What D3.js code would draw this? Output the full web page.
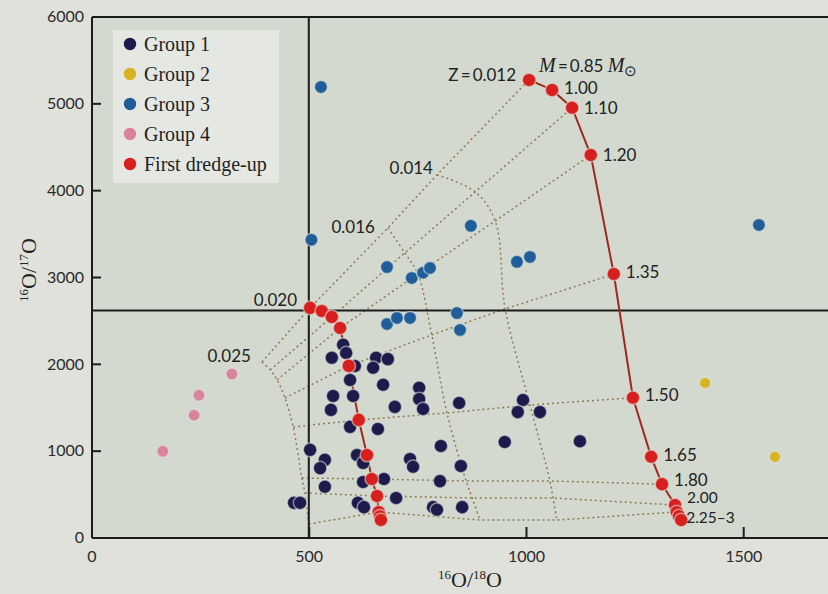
<!DOCTYPE html>
<html>
<head>
	<meta charset="UTF-8">
	<title>Oxygen isotope ratios</title>
	<script src="https://cdnjs.cloudflare.com/ajax/libs/d3/7.8.5/d3.min.js"></script>
	<style>
		body { margin: 0; background: #dfe1da; }
		svg { display: block; }
		.tick-label { font-family: Lato, "Open Sans", sans-serif; font-size: 16px; fill: #2a2a2a; }
		.note { font-family: Lato, "Open Sans", sans-serif; font-size: 17px; fill: #222; }
		.legend-text { font-family: "Liberation Serif", "DejaVu Serif", serif; font-size: 20px; fill: #222; }
		.axis-title { font-family: "Liberation Serif", "DejaVu Serif", serif; font-size: 22px; fill: #222; }
	</style>
</head>
<body>
<script type="text/javascript">
// ---- data ----
var group1X = [578, 585, 552, 654, 681, 647, 605, 594, 670, 753, 753, 762, 555, 601, 697, 550, 845, 594, 658, 502,
	536, 525, 610, 624, 803, 732, 739, 849, 536, 624, 672, 801, 465, 479, 612, 626, 700, 785, 794, 852,
	992, 980, 1031, 950, 1123];
var group1Y = [2225, 2130, 2075, 2075, 2060, 1960, 1980, 1820, 1765, 1730, 1600, 1485, 1635, 1635, 1510, 1475, 1555, 1280, 1255, 1015,
	900, 805, 955, 865, 1060, 910, 820, 830, 590, 645, 680, 655, 405, 405, 405, 355, 460, 355, 325, 355,
	1590, 1450, 1450, 1105, 1115];

var group2X = [1411, 1572];
var group2Y = [1785, 935];

var group3X = [527, 505, 872, 679, 736, 762, 778, 978, 1008, 679, 702, 732, 840, 847, 1535];
var group3Y = [5195, 3435, 3595, 3120, 2995, 3055, 3110, 3180, 3237, 2465, 2535, 2535, 2590, 2395, 3605];

var group4X = [163, 235, 246, 322];
var group4Y = [1000, 1415, 1645, 1890];

// first dredge-up tracks (solid red), one entry per stellar mass
var trackMasses = ["0.85", "1.00", "1.10", "1.20", "1.35", "1.50", "1.65", "1.80", "2.00", "2.25", "2.50", "3.00"];
var trackZ012X = [1006, 1059, 1105, 1148, 1201, 1245, 1287, 1312, 1342, 1346, 1351, 1356];
var trackZ012Y = [5275, 5160, 4955, 4410, 3040, 1615, 935, 620, 380, 300, 253, 207];
var trackZ020X = [502, 529, 552, 571, 591, 614, 633, 644, 656, 660, 663, 665];
var trackZ020Y = [2650, 2615, 2546, 2419, 1982, 1360, 955, 680, 484, 300, 250, 207];

// dotted model grid, nodes for these masses
var gridMasses = ["0.85", "1.10", "1.20", "1.35", "1.50", "1.80", "2.00", "2.25"];
var gridZ025X = [391, 410, 426, 444, 463, 483, 490, 499];
var gridZ025Y = [2028, 1935, 1820, 1613, 1279, 691, 518, 161];
var gridZ016X = [681, 720, 750, 782, 817, 861, 875, 893];
var gridZ016Y = [3571, 3283, 3041, 2340, 1440, 657, 461, 207];
var gridZ014X = [794, 882, 928, 951, 1008, 1054, 1061, 1070];
var gridZ014Y = [4182, 3986, 3652, 2638, 1532, 657, 461, 207];

// labels on the Z = 0.012 track
var massLabels = ["1.00", "1.10", "1.20", "1.35", "1.50", "1.65", "1.80", "2.00", "2.25\u20133"];
var zLabels = ["0.014", "0.016", "0.020", "0.025"];

var solar1618 = 499;
var solar1617 = 2620;

var xTicks = [0, 500, 1000, 1500];
var yTicks = [0, 1000, 2000, 3000, 4000, 5000, 6000];

var legendNames = ["Group 1", "Group 2", "Group 3", "Group 4", "First dredge-up"];
var legendColors = ["#1c1b4c", "#d6b322", "#1f5e98", "#d9849f", "#d7201d"];

// ---- drawing ----
var width = 828, height = 594;
var svg = d3.select("body").append("svg").attr("width", width).attr("height", height);

var x = d3.scaleLinear().domain([0, 1694]).range([92, 828]);
var y = d3.scaleLinear().domain([0, 6000]).range([538, 17]);

svg.append("rect")
	.attr("x", x(0)).attr("y", y(6000))
	.attr("width", x(1694) - x(0)).attr("height", y(0) - y(6000))
	.style("fill", "#d3d9ce");

function pts(xs, ys) {
	return xs.map(function(v, i) { return [v, ys[i]]; });
}
function pick(xs, ys, m) {
	var i = trackMasses.indexOf(m);
	return [xs[i], ys[i]];
}

var track012 = pts(trackZ012X, trackZ012Y);
var track020 = pts(trackZ020X, trackZ020Y);
var grid025 = pts(gridZ025X, gridZ025Y);
var grid016 = pts(gridZ016X, gridZ016Y);
var grid014 = pts(gridZ014X, gridZ014Y);

var dotted = { stroke: "#8d7c55", width: 1.5, dash: "2,3" };
var line = d3.line().x(function(d) { return x(d[0]); }).y(function(d) { return y(d[1]); });
var curve = d3.line().curve(d3.curveCatmullRom).x(function(d) { return x(d[0]); }).y(function(d) { return y(d[1]); });

// constant-Z dotted curves
[grid025, grid016, grid014].forEach(function(g) {
	svg.append("path")
		.attr("d", curve(g))
		.style("fill", "none")
		.style("stroke", dotted.stroke)
		.style("stroke-width", dotted.width)
		.style("stroke-dasharray", dotted.dash);
});

// constant-mass dotted lines across metallicity
gridMasses.forEach(function(m, i) {
	var row = [grid025[i], pick(trackZ020X, trackZ020Y, m), grid016[i], grid014[i], pick(trackZ012X, trackZ012Y, m)];
	svg.append("path")
		.attr("d", line(row))
		.style("fill", "none")
		.style("stroke", dotted.stroke)
		.style("stroke-width", dotted.width)
		.style("stroke-dasharray", dotted.dash);
});

// solar reference lines and frame
var frame = svg.append("g").style("stroke", "#1b1b1b").style("stroke-width", 2);
frame.append("line").attr("x1", x(0)).attr("x2", x(1694)).attr("y1", y(6000)).attr("y2", y(6000));
frame.append("line").attr("x1", x(0)).attr("x2", x(1694)).attr("y1", y(0)).attr("y2", y(0));
frame.append("line").attr("x1", x(0)).attr("x2", x(0)).attr("y1", y(0)).attr("y2", y(6000));
frame.append("line").attr("x1", x(solar1618)).attr("x2", x(solar1618)).attr("y1", y(0)).attr("y2", y(6000));
frame.append("line").attr("x1", x(0)).attr("x2", x(1694)).attr("y1", y(solar1617)).attr("y2", y(solar1617));

yTicks.forEach(function(t) {
	frame.append("line").attr("x1", x(0)).attr("x2", x(0) + 9).attr("y1", y(t)).attr("y2", y(t));
	svg.append("text").attr("class", "tick-label")
		.attr("x", x(0) - 8).attr("y", y(t)).attr("dy", "0.33em")
		.attr("text-anchor", "end").text(t);
});
xTicks.forEach(function(t) {
	frame.append("line").attr("x1", x(t)).attr("x2", x(t)).attr("y1", y(0)).attr("y2", y(0) - 11);
	svg.append("text").attr("class", "tick-label")
		.attr("x", x(t)).attr("y", y(0) + 24)
		.attr("text-anchor", "middle").text(t);
});

// model tracks
[track020, track012].forEach(function(t) {
	svg.append("path")
		.attr("d", line(t))
		.style("fill", "none")
		.style("stroke", "#9b2b1c")
		.style("stroke-width", 2);
});

function dots(data, color, r) {
	svg.append("g").selectAll("circle")
		.data(data)
		.enter().append("circle")
		.attr("cx", function(d) { return x(d[0]); })
		.attr("cy", function(d) { return y(d[1]); })
		.attr("r", r)
		.style("fill", color)
		.style("stroke", "#e2e6df")
		.style("stroke-opacity", 0.55)
		.style("stroke-width", 1.5);
}
dots(pts(group1X, group1Y), legendColors[0], 6.8);
dots(pts(group3X, group3Y), legendColors[2], 6.5);
dots(pts(group4X, group4Y), legendColors[3], 6);
dots(pts(group2X, group2Y), legendColors[1], 5.6);
dots(track020, legendColors[4], 6.8);
dots(track012, legendColors[4], 6.8);

// mass labels along the Z = 0.012 track
var labelShift = { "1.00": -2, "1.35": -2, "1.50": -3, "1.65": -2, "1.80": -4, "2.00": -7, "2.25\u20133": -2 };
massLabels.forEach(function(m) {
	var key = m.indexOf("2.25") === 0 ? "3.00" : m;
	var p = pick(trackZ012X, trackZ012Y, key);
	svg.append("text").attr("class", "note")
		.attr("x", x(p[0]) + (key === "3.00" ? 5 : 12))
		.attr("y", y(p[1]) + (labelShift[m] || 0))
		.attr("dy", "0.35em")
		.style("font-size", (m === "2.00" || key === "3.00") ? "15.5px" : null)
		.text(m);
});

// metallicity labels at the top of each curve
var zTops = [grid014[0], grid016[0], track020[0], grid025[0]];
var zShift = [[-4, -7], [-13, -1], [-13, -8], [-11, -6]];
zLabels.forEach(function(z, i) {
	svg.append("text").attr("class", "note")
		.attr("x", x(zTops[i][0]) + zShift[i][0])
		.attr("y", y(zTops[i][1]) + zShift[i][1])
		.attr("dy", "0.35em")
		.attr("text-anchor", "end")
		.text(z);
});

svg.append("text").attr("class", "note")
	.attr("x", x(track012[0][0]) - 13).attr("y", y(track012[0][1]) - 5)
	.attr("dy", "0.35em").attr("text-anchor", "end")
	.text("Z\u2009=\u20090.012");

var mLabel = svg.append("text").attr("class", "note")
	.attr("x", x(track012[0][0]) + 10).attr("y", y(track012[0][1]) - 14)
	.attr("dy", "0.35em");
mLabel.append("tspan").style("font-family", "'Liberation Serif', serif").style("font-style", "italic").style("font-size", "20px").text("M");
mLabel.append("tspan").text("\u2009=\u20090.85 ");
mLabel.append("tspan").style("font-family", "'Liberation Serif', serif").style("font-style", "italic").style("font-size", "20px").text("M");
mLabel.append("tspan").attr("dy", 4).style("font-size", "15px").text("\u2299");

// legend
svg.append("rect")
	.attr("x", 113).attr("y", 30).attr("width", 166).attr("height", 153)
	.style("fill", "#e5e8e2");
legendNames.forEach(function(name, i) {
	svg.append("circle")
		.attr("cx", 130).attr("cy", 44 + i * 30).attr("r", 6.2)
		.style("fill", legendColors[i]);
	svg.append("text").attr("class", "legend-text")
		.attr("x", 144).attr("y", 44 + i * 30).attr("dy", "0.33em")
		.text(name);
});

// axis titles
var yTitle = svg.append("text").attr("class", "axis-title")
	.attr("transform", "translate(36,270) rotate(-90)")
	.attr("text-anchor", "middle");
yTitle.append("tspan").attr("dy", -8).style("font-size", "13px").text("16");
yTitle.append("tspan").attr("dy", 8).text("O/");
yTitle.append("tspan").attr("dy", -8).style("font-size", "13px").text("17");
yTitle.append("tspan").attr("dy", 8).text("O");

var xTitle = svg.append("text").attr("class", "axis-title")
	.attr("x", 470).attr("y", 587)
	.attr("text-anchor", "middle");
xTitle.append("tspan").attr("dy", -8).style("font-size", "13px").text("16");
xTitle.append("tspan").attr("dy", 8).text("O/");
xTitle.append("tspan").attr("dy", -8).style("font-size", "13px").text("18");
xTitle.append("tspan").attr("dy", 8).text("O");
</script>
</body>
</html>
